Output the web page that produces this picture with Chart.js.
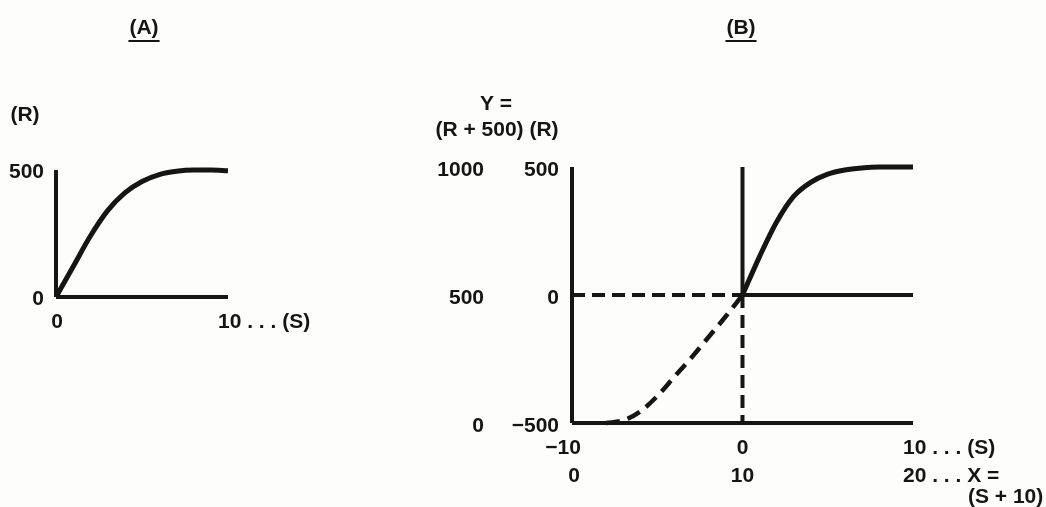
<!DOCTYPE html>
<html>
<head>
<meta charset="utf-8">
<title>Response curves</title>
<script src="https://cdn.jsdelivr.net/npm/chart.js@4/dist/chart.umd.min.js"></script>
<style>
  body { margin: 0; background: #fdfdfc; width: 1046px; height: 507px; overflow: hidden; position: relative; }
  canvas { position: absolute; top: 0; }
  #chartA { left: 0; }
  #chartB { left: 420px; }
</style>
</head>
<body>
<canvas id="chartA" width="330" height="507"></canvas>
<canvas id="chartB" width="626" height="507"></canvas>
<script>
// (A): response R against stimulus S
const aS = [0, 1, 2, 3, 4, 5, 6, 7, 8, 9, 10];
const aR = [0, 120, 240, 340, 410, 455, 482, 495, 500, 500, 497];

// (B): solid branch for S >= 0, dashed branch for S < 0
const bS = [0, 1, 2, 3, 4, 5, 6, 7, 8, 9, 10];
const bR = [0, 150, 285, 385, 440, 472, 488, 496, 500, 500, 500];
const bNegS = [-8, -7, -6, -5, -4, -3, -2, -1, 0];
const bNegR = [-500, -490, -455, -395, -320, -245, -165, -85, 0];

// tick values and labels
const aRTicks = [0, 500];
const aSTicks = [0, 10];
const aSLabels = ['0', '10 . . . (S)'];
const bRTicks = [-500, 0, 500];
const bRLabels = ['\u2212500', '0', '500'];
const bYLabels = ['0', '500', '1000'];
const bSTicks = [-10, 0, 10];
const bSLabels = ['\u221210', '0', '10 . . . (S)'];
const bXLabels = ['0', '10', '20 . . . X ='];

const INK = '#151515';
const FONT = 'bold 21px "Liberation Sans", Arial, sans-serif';

const pts = (xs, ys) => xs.map((x, i) => ({ x: x, y: ys[i] }));

function seg(x1, y1, x2, y2, dashed) {
  return {
    data: [{ x: x1, y: y1 }, { x: x2, y: y2 }],
    borderColor: INK,
    borderWidth: 4,
    borderDash: dashed ? [13, 7] : [],
    borderCapStyle: 'butt',
    pointRadius: 0,
    clip: false
  };
}

function curve(xs, ys, dashed) {
  return {
    data: pts(xs, ys),
    borderColor: INK,
    borderWidth: dashed ? 4.5 : 5,
    borderDash: dashed ? [14, 8] : [],
    cubicInterpolationMode: 'monotone',
    pointRadius: 0,
    clip: false
  };
}

// draws tick texts and titles; vx/vy are data values, dx/dy pixel offsets
const axisText = {
  id: 'axisText',
  afterDraw(chart, args, opts) {
    const ctx = chart.ctx;
    const xs = chart.scales.x, ys = chart.scales.y;
    ctx.save();
    ctx.fillStyle = INK;
    ctx.strokeStyle = INK;
    ctx.font = FONT;
    ctx.textBaseline = 'middle';
    (opts.items || []).forEach(it => {
      const px = (it.vx == null ? 0 : xs.getPixelForValue(it.vx)) + (it.dx || 0);
      const py = (it.vy == null ? 0 : ys.getPixelForValue(it.vy)) + (it.dy || 0);
      ctx.textAlign = it.align || 'center';
      ctx.fillText(it.text, px, py);
      if (it.underline) {
        const w = ctx.measureText(it.text).width;
        ctx.lineWidth = 2;
        ctx.beginPath();
        ctx.moveTo(px - w / 2 - 1, py + 13);
        ctx.lineTo(px + w / 2 + 1, py + 13);
        ctx.stroke();
      }
    });
    ctx.restore();
  }
};

function baseOptions(padding, xr, yr, items) {
  return {
    responsive: false,
    animation: false,
    layout: { padding: padding },
    scales: {
      x: { type: 'linear', min: xr[0], max: xr[1], display: false },
      y: { type: 'linear', min: yr[0], max: yr[1], display: false }
    },
    plugins: {
      legend: { display: false },
      tooltip: { enabled: false },
      axisText: { items: items }
    }
  };
}

// ---- chart (A) ----
const itemsA = [
  ...aRTicks.map(v => ({ text: String(v), vx: 0, vy: v, dx: -12, dy: 2, align: 'right' })),
  ...aSTicks.map((v, i) => ({
    text: aSLabels[i], vx: v, vy: 0, dx: i === 0 ? 1 : -10, dy: 25,
    align: i === 0 ? 'center' : 'left'
  })),
  { text: '(R)', dx: 25, dy: 115 },
  { text: '(A)', dx: 144, dy: 28, underline: true }
];

new Chart(document.getElementById('chartA'), {
  type: 'line',
  data: {
    datasets: [
      seg(0, 0, 0, 500),
      seg(0, 0, 10, 0),
      curve(aS, aR, false)
    ]
  },
  options: baseOptions({ left: 56, right: 102, top: 170, bottom: 210 }, [0, 10], [0, 500], itemsA),
  plugins: [axisText]
});

// ---- chart (B) ----
const itemsB = [
  ...bRTicks.map((v, i) => ({ text: bRLabels[i], vx: -10, vy: v, dx: -13, dy: 3, align: 'right' })),
  ...bRTicks.map((v, i) => ({ text: bYLabels[i], vx: -10, vy: v, dx: -88, dy: 3, align: 'right' })),
  ...bSTicks.map((v, i) => ({
    text: bSLabels[i], vx: v, vy: -500, dx: i === 0 ? -9 : (i === 2 ? -10 : 0), dy: 25,
    align: i === 2 ? 'left' : 'center'
  })),
  ...bSTicks.map((v, i) => ({
    text: bXLabels[i], vx: v, vy: -500, dx: i === 0 ? 2 : (i === 2 ? -10 : 0), dy: 53,
    align: i === 2 ? 'left' : 'center'
  })),
  { text: '(S + 10)', vx: 10, vy: -500, dx: 55, dy: 74, align: 'left' },
  { text: 'Y =', dx: 76, dy: 104 },
  { text: '(R + 500) (R)', dx: 77, dy: 130 },
  { text: '(B)', dx: 321, dy: 28, underline: true }
];

new Chart(document.getElementById('chartB'), {
  type: 'line',
  data: {
    datasets: [
      seg(-10, -500, -10, 500),
      seg(-10, -500, 10, -500),
      seg(0, 0, 0, 500),
      seg(0, 0, 0, -500, true),
      seg(-10, 0, 0, 0, true),
      seg(0, 0, 10, 0),
      curve(bS, bR, false),
      curve(bNegS, bNegR, true)
    ]
  },
  options: baseOptions({ left: 152, right: 133, top: 167, bottom: 84 }, [-10, 10], [-500, 500], itemsB),
  plugins: [axisText]
});
</script>
</body>
</html>
